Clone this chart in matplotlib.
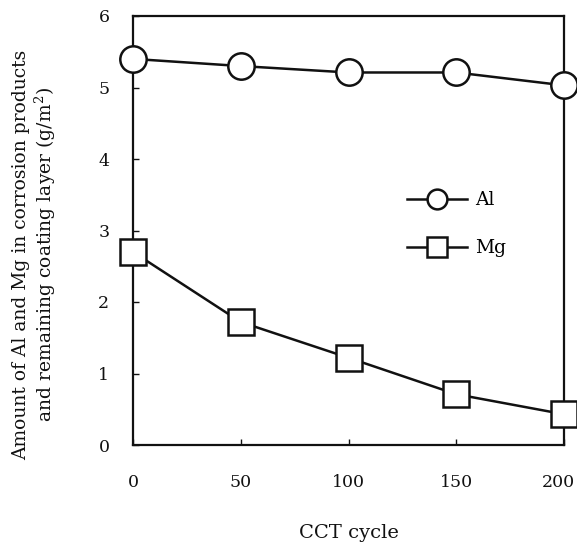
import matplotlib
matplotlib.use("Agg")
import matplotlib.pyplot as plt
import matplotlib.transforms as mtransforms

cycles = [0, 50, 100, 150, 200]
al_amount = [5.40, 5.30, 5.21, 5.21, 5.03]
mg_amount = [2.70, 1.72, 1.22, 0.71, 0.43]
x_ticks = [0, 50, 100, 150, 200]
y_ticks = [0, 1, 2, 3, 4, 5, 6]

plt.rcParams["font.family"] = ["DejaVu Serif"]
plt.rcParams["mathtext.fontset"] = "dejavuserif"

fig = plt.figure(figsize=(5.77, 5.49), dpi=100)
ax = fig.add_axes([133 / 577, 1 - 445 / 549, 431 / 577, 429 / 549])

common = dict(color="#111111", lw=1.8, markersize=19, markerfacecolor="white",
              markeredgecolor="#111111", markeredgewidth=1.8, clip_on=False, zorder=3)
ax.plot(cycles, al_amount, marker="o", label="Al", **common)
ax.plot(cycles, mg_amount, marker="s", label="Mg", **common)

ax.set_xlim(0, 200)
ax.set_ylim(0, 6)
ax.set_xticks(x_ticks)
ax.set_yticks(y_ticks)
ax.tick_params(axis="both", direction="in", length=4, width=1, labelsize=12.5,
               colors="#111111")
ax.tick_params(axis="x", pad=21)
ax.tick_params(axis="y", pad=17)
for s in ax.spines.values():
    s.set_linewidth(1.6)
    s.set_color("#111111")

# keep the last x tick label inside the figure edge
last = ax.get_xticklabels()[-1]
last.set_transform(last.get_transform() +
                   mtransforms.ScaledTranslation(-6 / 100, 0, fig.dpi_scale_trans))

ax.set_xlabel("CCT cycle", fontsize=14, labelpad=24, color="#111111")
fig.text(35 / 577, 1 - 255 / 549,
         "Amount of Al and Mg in corrosion products\nand remaining coating layer (g/m$^2$)",
         rotation=90, ha="center", va="center", fontsize=13.5, color="#111111",
         linespacing=1.1)

leg = ax.legend(loc="upper left", bbox_to_anchor=(265 / 431, 1 - 166 / 429),
                frameon=False, handlelength=3.2, handletextpad=0.43,
                labelspacing=1.6, markerscale=0.75, fontsize=13.5, borderpad=0)

fig.savefig("out.png", dpi=100)
